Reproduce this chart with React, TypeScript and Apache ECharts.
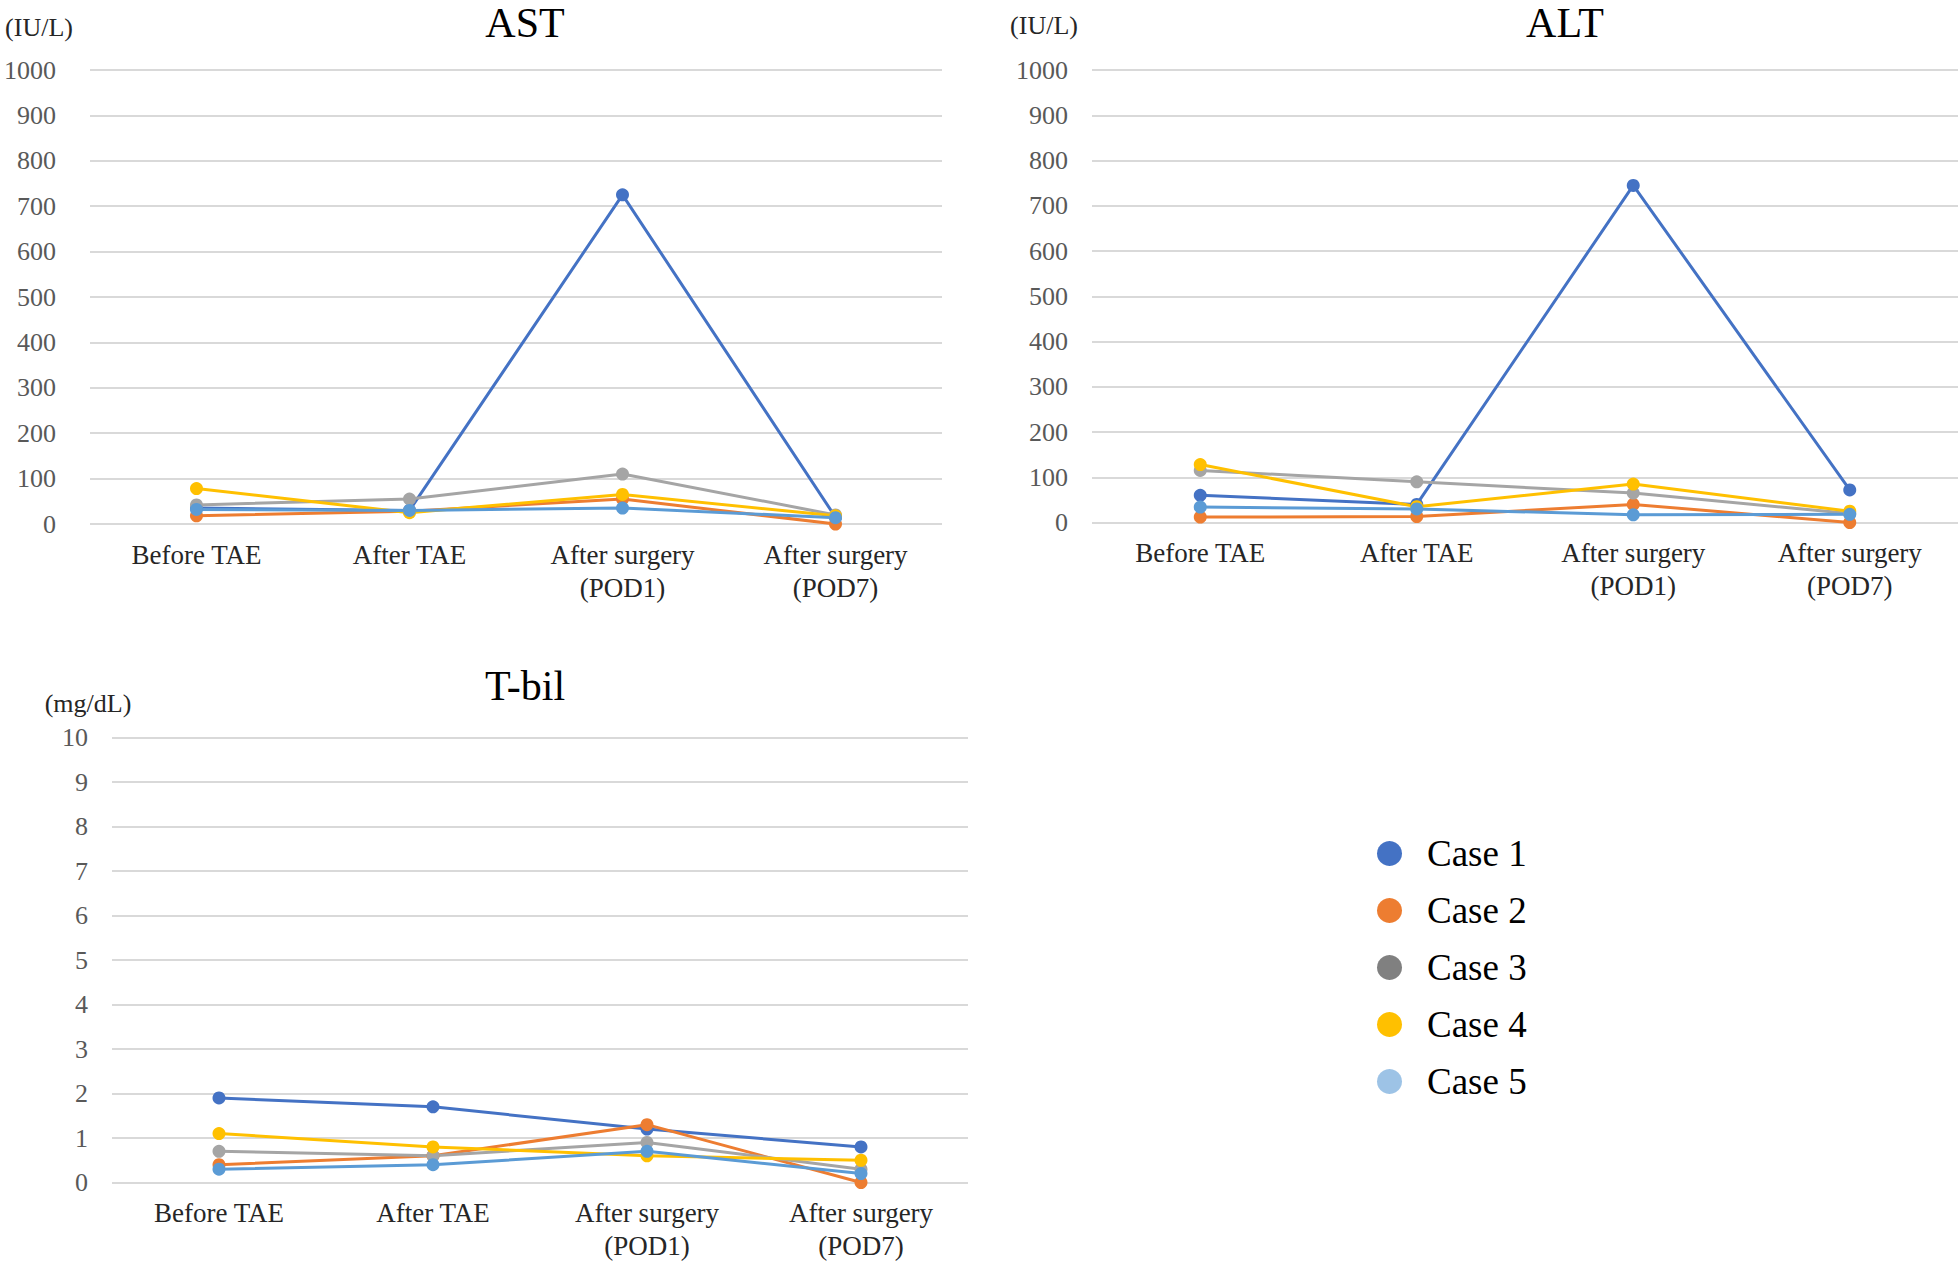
import React, { useEffect, useRef } from "react";
import * as echarts from "echarts";

const categories = ["Before TAE", "After TAE", "After surgery\n(POD1)", "After surgery\n(POD7)"];
const caseNames = ["Case 1", "Case 2", "Case 3", "Case 4", "Case 5"];
const lineColors = ["#4472C4", "#ED7D31", "#A5A5A5", "#FFC000", "#5B9BD5"];
const legendColors = ["#4472C4", "#ED7D31", "#808080", "#FFC000", "#9DC3E6"];

// AST (IU/L)
const astCase1 = [35, 30, 725, 15];
const astCase2 = [18, 28, 55, 0];
const astCase3 = [42, 55, 110, 20];
const astCase4 = [78, 25, 65, 18];
const astCase5 = [32, 30, 35, 14];

// ALT (IU/L)
const altCase1 = [60, 40, 745, 72];
const altCase2 = [12, 13, 40, 0];
const altCase3 = [115, 90, 65, 20];
const altCase4 = [128, 35, 85, 25];
const altCase5 = [34, 30, 17, 18];

// T-bil (mg/dL)
const tbilCase1 = [1.9, 1.7, 1.2, 0.8];
const tbilCase2 = [0.4, 0.6, 1.3, 0.0];
const tbilCase3 = [0.7, 0.6, 0.9, 0.3];
const tbilCase4 = [1.1, 0.8, 0.6, 0.5];
const tbilCase5 = [0.3, 0.4, 0.7, 0.2];

const astData = [astCase1, astCase2, astCase3, astCase4, astCase5];
const altData = [altCase1, altCase2, altCase3, altCase4, altCase5];
const tbilData = [tbilCase1, tbilCase2, tbilCase3, tbilCase4, tbilCase5];

const FONT = "Liberation Serif";

export default function App() {
  const ref = useRef<HTMLDivElement>(null);

  useEffect(() => {
    if (!ref.current) return;
    const chart = echarts.init(ref.current, undefined, { renderer: "svg" });

    const grids = [
      { left: 90, top: 70, width: 852, height: 454 },
      { left: 1092, top: 70, width: 866, height: 452.5 },
      { left: 112, top: 737.5, width: 856, height: 445 },
    ];

    const xAxes = grids.map((_, i) => ({
      type: "category",
      gridIndex: i,
      data: categories,
      boundaryGap: true,
      axisLine: { show: false },
      axisTick: { show: false },
      axisLabel: {
        interval: 0,
        margin: 14,
        fontFamily: FONT,
        fontSize: 27,
        lineHeight: 33,
        color: "#262626",
      },
    }));

    const yLabel = (margin: number) => ({
      margin,
      fontFamily: FONT,
      fontSize: 26,
      color: "#595959",
      formatter: (v: number) => String(v),
    });

    const yCommon = {
      type: "value",
      axisLine: { show: false },
      axisTick: { show: false },
      splitLine: { show: true, lineStyle: { color: "#D9D9D9", width: 2 } },
    };
    const yAxes = [
      { ...yCommon, gridIndex: 0, min: 0, max: 1000, interval: 100, axisLabel: yLabel(34) },
      { ...yCommon, gridIndex: 1, min: 0, max: 1000, interval: 100, axisLabel: yLabel(24) },
      { ...yCommon, gridIndex: 2, min: 0, max: 10, interval: 1, axisLabel: yLabel(24) },
    ];

    const series: any[] = [];
    [astData, altData, tbilData].forEach((set, gi) => {
      set.forEach((vals, ci) => {
        series.push({
          type: "line",
          name: caseNames[ci],
          xAxisIndex: gi,
          yAxisIndex: gi,
          data: vals,
          symbol: "circle",
          symbolSize: 13,
          lineStyle: { width: 3, color: lineColors[ci] },
          itemStyle: { color: lineColors[ci] },
          emphasis: { disabled: true },
        });
      });
    });

    const titleStyle = { fontFamily: FONT, fontSize: 42, fontWeight: "normal", color: "#000" };

    chart.setOption({
      animation: false,
      backgroundColor: "#ffffff",
      textStyle: { fontFamily: FONT },
      title: [
        { text: "AST", left: 525, top: 2, textAlign: "center", padding: 0, textStyle: titleStyle },
        { text: "ALT", left: 1565, top: 2, textAlign: "center", padding: 0, textStyle: titleStyle },
        { text: "T-bil", left: 525, top: 665, textAlign: "center", padding: 0, textStyle: titleStyle },
      ],
      grid: grids,
      xAxis: xAxes,
      yAxis: yAxes,
      legend: {
        orient: "vertical",
        left: 1377,
        top: 835,
        padding: 0,
        itemWidth: 25,
        itemHeight: 25,
        itemGap: 20,
        icon: "circle",
        selectedMode: false,
        textStyle: { fontFamily: FONT, fontSize: 37, color: "#000", padding: [0, 0, 0, 20] },
        data: caseNames.map((n, i) => ({
          name: n,
          icon: "circle",
          itemStyle: { color: legendColors[i] },
          textStyle: { fontFamily: FONT, fontSize: 37, color: "#000" },
        })),
      },
      graphic: [
        {
          type: "text",
          x: 39,
          y: 27,
          style: { text: "(IU/L)", fontFamily: FONT, fontSize: 26, fill: "#262626", textAlign: "center", textVerticalAlign: "middle" },
        },
        {
          type: "text",
          x: 1044,
          y: 25,
          style: { text: "(IU/L)", fontFamily: FONT, fontSize: 26, fill: "#262626", textAlign: "center", textVerticalAlign: "middle" },
        },
        {
          type: "text",
          x: 88,
          y: 703,
          style: { text: "(mg/dL)", fontFamily: FONT, fontSize: 26, fill: "#262626", textAlign: "center", textVerticalAlign: "middle" },
        },
      ],
      series,
    });

    return () => {
      chart.dispose();
    };
  }, []);

  return (
    <div
      ref={ref}
      style={{ position: "fixed", left: 0, top: 0, width: 1960, height: 1264, background: "#fff" }}
    />
  );
}
